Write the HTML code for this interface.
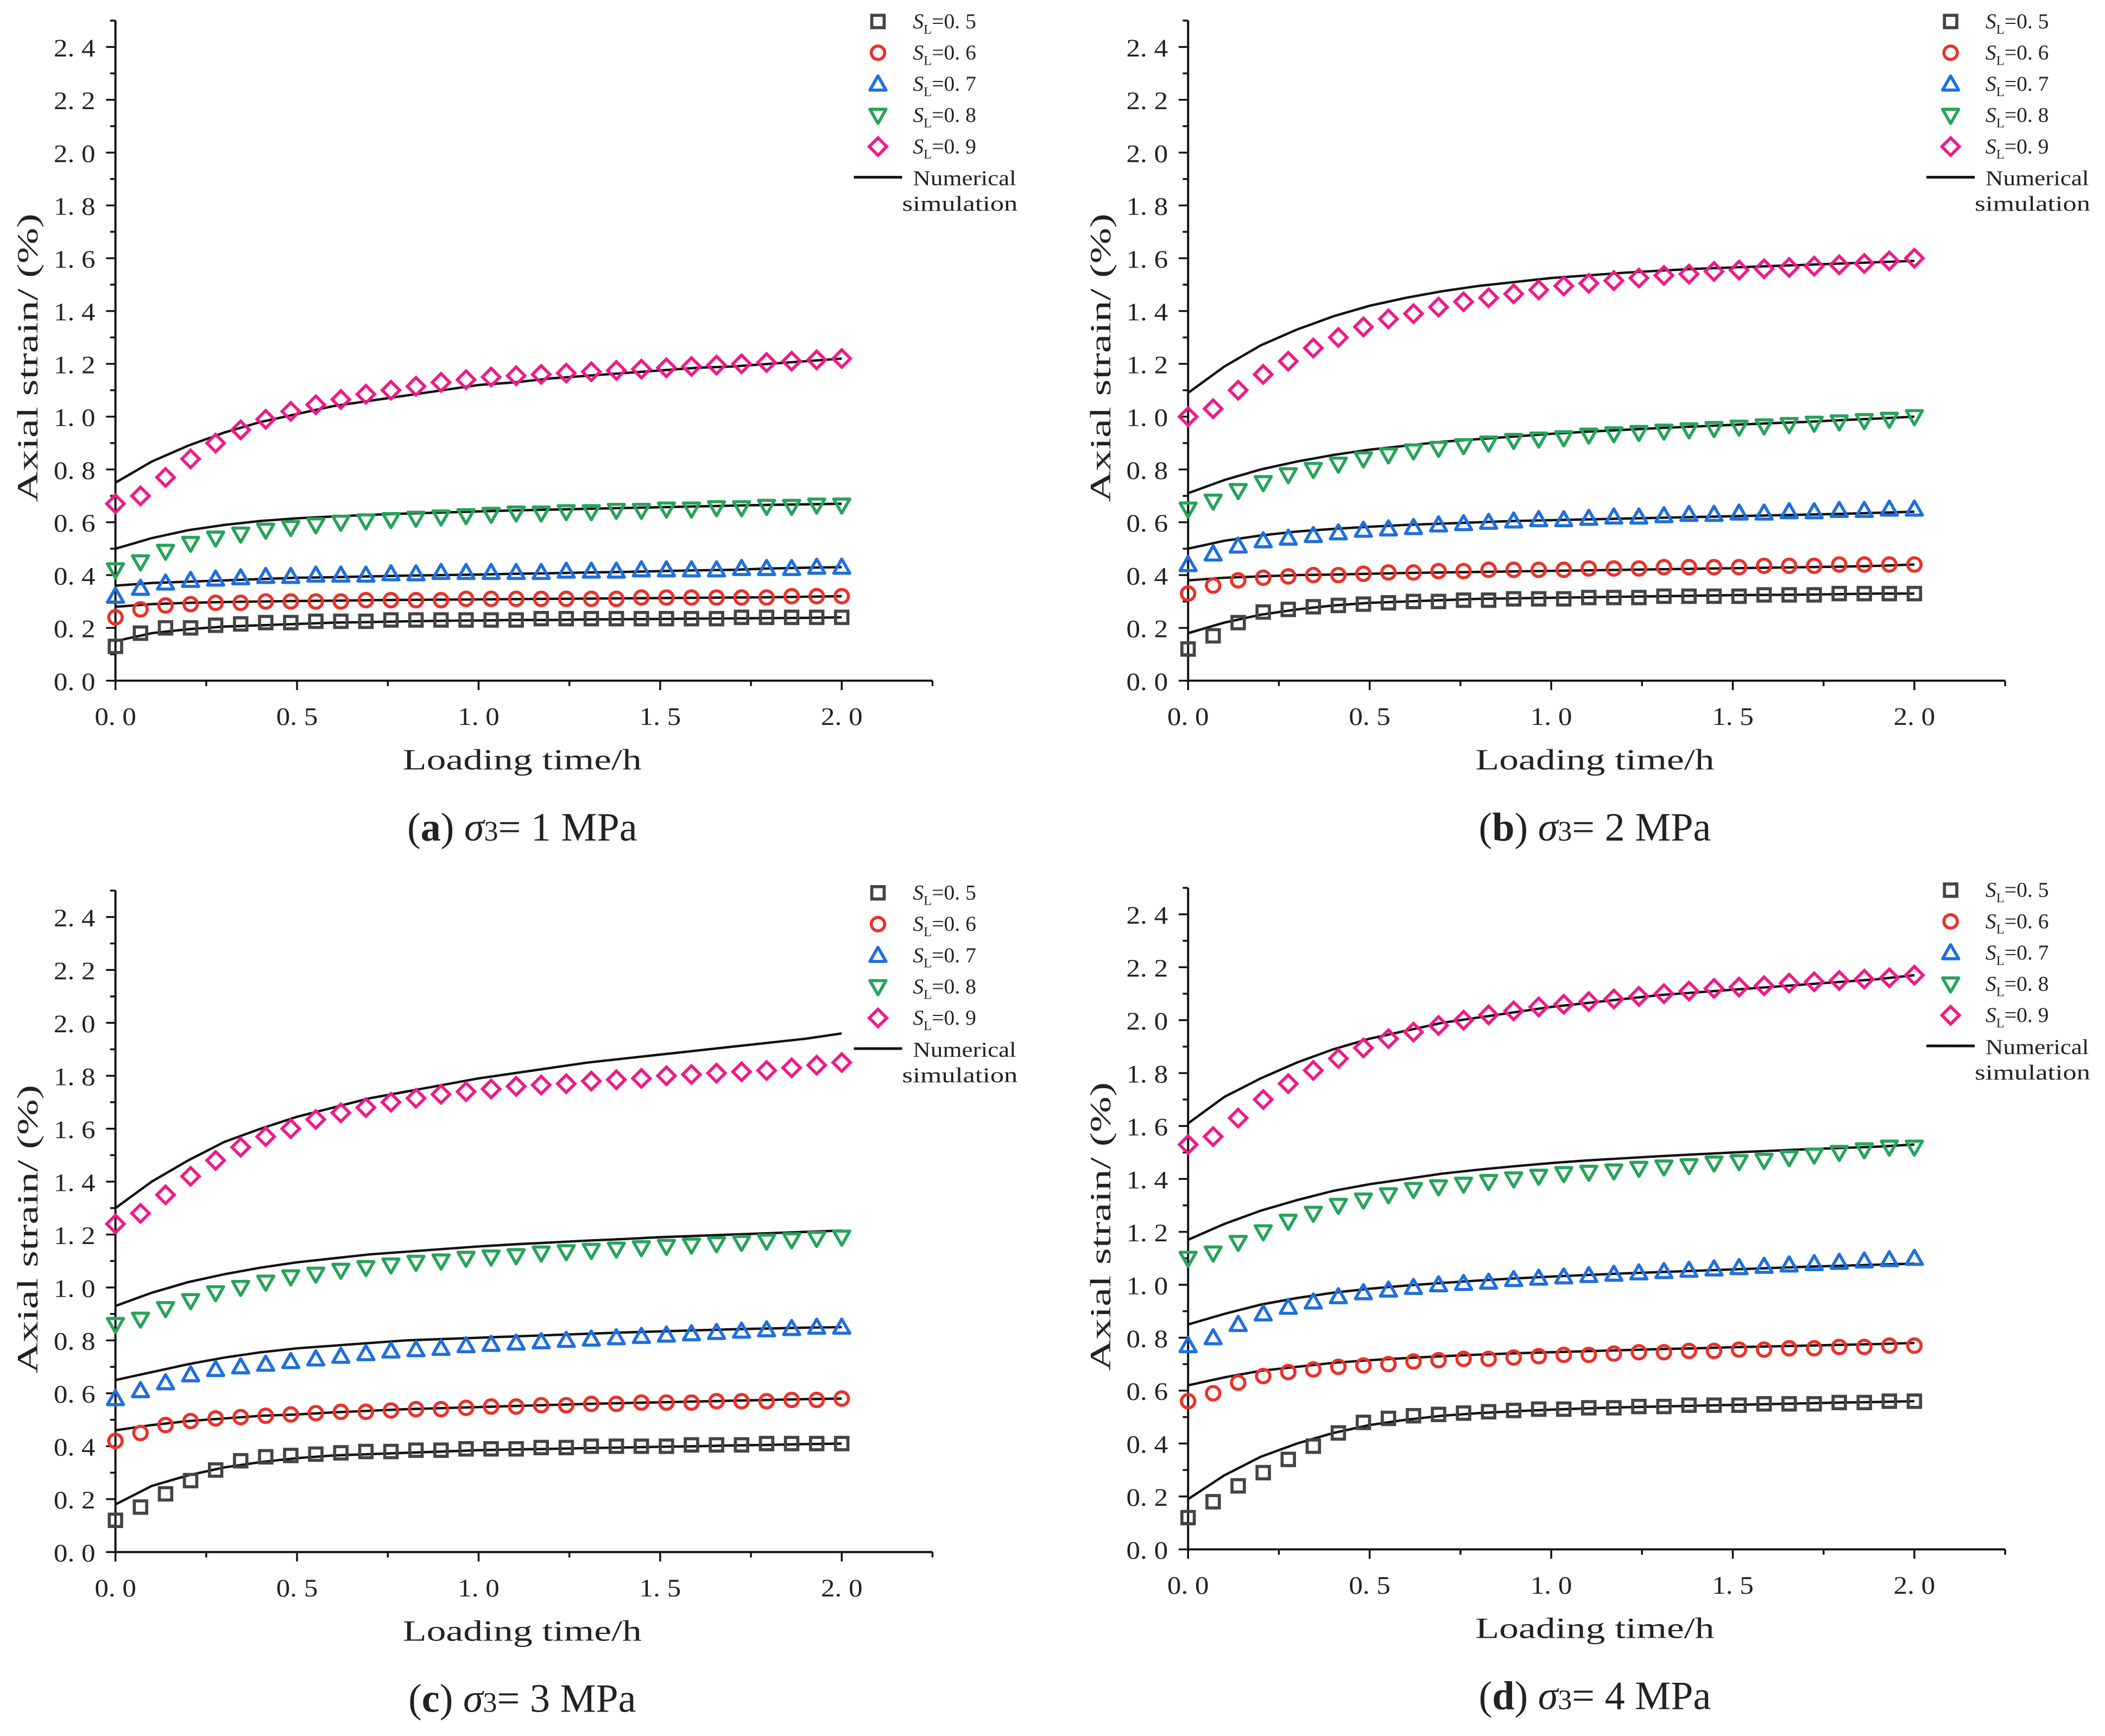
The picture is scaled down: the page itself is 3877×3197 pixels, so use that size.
<!DOCTYPE html>
<html><head><meta charset="utf-8"><style>
html,body{margin:0;padding:0;background:#fff;}
svg{display:block;}
text{font-family:"Liberation Serif","Noto Serif CJK SC",serif;fill:#222;}
</style></head><body>
<svg id="fig" width="3877" height="3197" viewBox="0 0 1568 1293" preserveAspectRatio="none" xmlns="http://www.w3.org/2000/svg"></svg>
<script>
// shared data
const levels = ["0.5","0.6","0.7","0.8","0.9"];
const yTicks = [0.0,0.2,0.4,0.6,0.8,1.0,1.2,1.4,1.6,1.8,2.0,2.2,2.4];
const yTickLabels = ["0. 0","0. 2","0. 4","0. 6","0. 8","1. 0","1. 2","1. 4","1. 6","1. 8","2. 0","2. 2","2. 4"];
const xTicks = [0,0.5,1.0,1.5,2.0];
const xTickLabels = ["0. 0","0. 5","1. 0","1. 5","2. 0"];
const markerTimes = Array.from({length:30},(_, i)=>i*2/29);
const curveTimes = [0,0.1,0.2,0.3,0.4,0.5,0.6,0.7,0.8,0.9,1.0,1.1,1.2,1.3,1.4,1.5,1.6,1.7,1.8,1.9,2.0];

// panel (a)
const aM05=[0.13,0.18,0.20,0.20,0.21,0.215,0.22,0.22,0.225,0.225,0.225,0.23,0.23,0.23,0.23,0.23,0.23,0.235,0.235,0.235,0.235,0.235,0.235,0.235,0.235,0.24,0.24,0.24,0.24,0.24];
const aM06=[0.24,0.27,0.285,0.29,0.295,0.295,0.30,0.30,0.30,0.30,0.305,0.305,0.305,0.305,0.31,0.31,0.31,0.31,0.31,0.31,0.31,0.315,0.315,0.315,0.315,0.315,0.315,0.32,0.32,0.32];
const aM07=[0.32,0.35,0.37,0.38,0.385,0.39,0.395,0.395,0.40,0.40,0.40,0.405,0.405,0.41,0.41,0.41,0.41,0.41,0.415,0.415,0.415,0.42,0.42,0.42,0.42,0.425,0.425,0.425,0.43,0.43];
const aM08=[0.42,0.45,0.49,0.52,0.54,0.555,0.57,0.58,0.59,0.60,0.605,0.61,0.615,0.62,0.625,0.63,0.635,0.635,0.64,0.64,0.645,0.645,0.65,0.65,0.655,0.655,0.66,0.66,0.665,0.665];
const aM09=[0.67,0.70,0.77,0.84,0.90,0.95,0.99,1.02,1.045,1.065,1.085,1.10,1.115,1.13,1.14,1.15,1.155,1.16,1.165,1.17,1.175,1.18,1.185,1.19,1.195,1.20,1.205,1.21,1.215,1.22];
const aC05=[0.15,0.18,0.195,0.205,0.21,0.215,0.22,0.222,0.225,0.227,0.228,0.23,0.23,0.232,0.233,0.234,0.235,0.236,0.237,0.238,0.24];
const aC06=[0.28,0.29,0.295,0.298,0.30,0.302,0.303,0.305,0.306,0.307,0.308,0.309,0.31,0.311,0.312,0.313,0.314,0.315,0.316,0.318,0.32];
const aC07=[0.36,0.37,0.375,0.38,0.385,0.39,0.392,0.395,0.398,0.40,0.402,0.405,0.407,0.41,0.412,0.415,0.418,0.42,0.425,0.428,0.43];
const aC08=[0.50,0.54,0.57,0.59,0.605,0.615,0.622,0.628,0.633,0.637,0.641,0.645,0.648,0.651,0.654,0.657,0.66,0.663,0.666,0.668,0.67];
const aC09=[0.75,0.83,0.89,0.94,0.98,1.01,1.04,1.06,1.08,1.10,1.12,1.13,1.145,1.155,1.165,1.175,1.185,1.19,1.20,1.21,1.22];

// panel (b)
const bM05=[0.12,0.17,0.22,0.26,0.27,0.28,0.285,0.29,0.295,0.30,0.30,0.305,0.305,0.31,0.31,0.31,0.315,0.315,0.315,0.32,0.32,0.32,0.32,0.325,0.325,0.325,0.33,0.33,0.33,0.33];
const bM06=[0.33,0.36,0.38,0.39,0.395,0.40,0.40,0.405,0.41,0.41,0.415,0.415,0.42,0.42,0.42,0.42,0.425,0.425,0.425,0.43,0.43,0.43,0.43,0.435,0.435,0.435,0.44,0.44,0.44,0.44];
const bM07=[0.44,0.48,0.51,0.53,0.54,0.55,0.56,0.57,0.575,0.58,0.59,0.595,0.60,0.605,0.61,0.61,0.615,0.62,0.62,0.625,0.63,0.63,0.635,0.635,0.64,0.64,0.645,0.645,0.65,0.65];
const bM08=[0.65,0.68,0.72,0.75,0.78,0.80,0.82,0.84,0.855,0.87,0.88,0.89,0.90,0.91,0.915,0.92,0.93,0.935,0.94,0.945,0.95,0.955,0.96,0.965,0.97,0.975,0.98,0.985,0.99,1.00];
const bM09=[1.00,1.03,1.10,1.16,1.21,1.26,1.30,1.34,1.37,1.39,1.415,1.435,1.45,1.465,1.48,1.495,1.505,1.515,1.525,1.535,1.54,1.55,1.555,1.56,1.565,1.57,1.575,1.58,1.59,1.60];
const bC05=[0.18,0.22,0.25,0.27,0.285,0.295,0.30,0.305,0.31,0.312,0.314,0.316,0.318,0.32,0.322,0.324,0.325,0.326,0.328,0.33,0.33];
const bC06=[0.38,0.39,0.395,0.40,0.402,0.405,0.408,0.41,0.412,0.414,0.416,0.418,0.42,0.422,0.424,0.426,0.428,0.43,0.432,0.435,0.44];
const bC07=[0.50,0.53,0.55,0.565,0.575,0.583,0.59,0.595,0.60,0.605,0.608,0.611,0.614,0.617,0.62,0.623,0.626,0.629,0.632,0.636,0.64];
const bC08=[0.71,0.76,0.80,0.83,0.855,0.875,0.89,0.905,0.915,0.925,0.935,0.943,0.95,0.957,0.963,0.969,0.975,0.98,0.987,0.993,1.00];
const bC09=[1.09,1.19,1.27,1.33,1.38,1.42,1.45,1.475,1.495,1.51,1.525,1.535,1.545,1.553,1.56,1.565,1.57,1.575,1.58,1.585,1.59];

// panel (c)
const cM05=[0.12,0.17,0.22,0.27,0.31,0.345,0.36,0.365,0.37,0.375,0.38,0.38,0.385,0.385,0.39,0.39,0.39,0.395,0.395,0.40,0.40,0.40,0.40,0.405,0.405,0.405,0.41,0.41,0.41,0.41];
const cM06=[0.42,0.45,0.48,0.495,0.505,0.51,0.515,0.52,0.525,0.53,0.53,0.535,0.54,0.54,0.545,0.55,0.55,0.555,0.555,0.56,0.56,0.565,0.565,0.565,0.57,0.57,0.57,0.575,0.575,0.58];
const cM07=[0.58,0.61,0.64,0.67,0.69,0.70,0.71,0.72,0.73,0.74,0.75,0.76,0.765,0.77,0.78,0.785,0.79,0.795,0.80,0.805,0.81,0.815,0.82,0.825,0.83,0.835,0.84,0.845,0.85,0.85];
const cM08=[0.86,0.88,0.92,0.95,0.98,1.00,1.02,1.04,1.05,1.065,1.075,1.085,1.095,1.10,1.11,1.115,1.12,1.13,1.135,1.14,1.145,1.15,1.155,1.16,1.165,1.17,1.175,1.18,1.185,1.19];
const cM09=[1.24,1.28,1.35,1.42,1.48,1.53,1.57,1.60,1.635,1.66,1.68,1.70,1.715,1.73,1.74,1.75,1.76,1.765,1.77,1.78,1.785,1.79,1.80,1.805,1.81,1.815,1.82,1.83,1.84,1.85];
const cC05=[0.18,0.25,0.29,0.32,0.34,0.355,0.365,0.37,0.375,0.38,0.385,0.388,0.39,0.393,0.395,0.398,0.40,0.403,0.405,0.408,0.41];
const cC06=[0.46,0.48,0.495,0.505,0.515,0.52,0.528,0.534,0.54,0.544,0.548,0.552,0.556,0.56,0.563,0.566,0.569,0.572,0.575,0.578,0.58];
const cC07=[0.65,0.68,0.71,0.735,0.755,0.77,0.78,0.79,0.80,0.805,0.81,0.815,0.82,0.825,0.83,0.834,0.838,0.842,0.845,0.848,0.85];
const cC08=[0.93,0.98,1.02,1.05,1.075,1.095,1.11,1.125,1.135,1.145,1.155,1.163,1.17,1.177,1.183,1.19,1.195,1.20,1.205,1.21,1.215];
const cC09=[1.30,1.40,1.48,1.55,1.60,1.645,1.68,1.715,1.74,1.765,1.79,1.81,1.83,1.85,1.865,1.88,1.895,1.91,1.925,1.94,1.96];

// panel (d)
const dM05=[0.12,0.18,0.24,0.29,0.34,0.39,0.44,0.48,0.495,0.505,0.51,0.515,0.52,0.525,0.53,0.53,0.535,0.535,0.54,0.54,0.545,0.545,0.545,0.55,0.55,0.55,0.555,0.555,0.56,0.56];
const dM06=[0.56,0.59,0.63,0.655,0.67,0.68,0.69,0.695,0.70,0.71,0.715,0.72,0.72,0.725,0.73,0.735,0.735,0.74,0.745,0.745,0.75,0.75,0.755,0.755,0.76,0.76,0.765,0.765,0.77,0.77];
const dM07=[0.77,0.80,0.85,0.89,0.915,0.935,0.955,0.97,0.98,0.99,1.00,1.005,1.01,1.02,1.025,1.03,1.035,1.04,1.045,1.05,1.055,1.06,1.065,1.07,1.075,1.08,1.085,1.09,1.095,1.10];
const dM08=[1.10,1.12,1.16,1.20,1.24,1.27,1.30,1.32,1.34,1.36,1.37,1.38,1.39,1.40,1.41,1.42,1.425,1.43,1.44,1.445,1.45,1.46,1.465,1.47,1.48,1.49,1.50,1.51,1.52,1.52];
const dM09=[1.53,1.56,1.63,1.70,1.76,1.81,1.855,1.895,1.93,1.955,1.98,2.00,2.02,2.035,2.05,2.06,2.07,2.08,2.09,2.10,2.11,2.12,2.125,2.13,2.14,2.145,2.15,2.155,2.16,2.17];
const dC05=[0.19,0.28,0.35,0.40,0.44,0.47,0.49,0.505,0.515,0.522,0.528,0.533,0.537,0.54,0.543,0.546,0.549,0.552,0.555,0.557,0.56];
const dC06=[0.62,0.65,0.675,0.69,0.705,0.715,0.723,0.73,0.736,0.741,0.745,0.749,0.753,0.757,0.76,0.764,0.767,0.77,0.773,0.776,0.78];
const dC07=[0.85,0.89,0.925,0.95,0.97,0.985,0.997,1.007,1.016,1.024,1.031,1.037,1.043,1.048,1.053,1.058,1.063,1.068,1.072,1.076,1.08];
const dC08=[1.17,1.23,1.28,1.32,1.355,1.38,1.40,1.42,1.435,1.448,1.46,1.47,1.478,1.486,1.493,1.50,1.506,1.512,1.517,1.522,1.53];
const dC09=[1.61,1.71,1.78,1.84,1.89,1.93,1.96,1.99,2.01,2.03,2.05,2.065,2.08,2.095,2.105,2.115,2.125,2.135,2.145,2.155,2.17];

const NS="http://www.w3.org/2000/svg";
const svg=document.getElementById('fig');
const colors=["#444444","#e8322a","#1f6fdc","#27a35b","#ee1a87"];
const shapes=["square","circle","up","down","diamond"];

function mk(tag,attrs,parent){const e=document.createElementNS(NS,tag);for(const k in attrs)e.setAttribute(k,attrs[k]);(parent||svg).appendChild(e);return e;}

function marker(g,shape,cx,cy,col){
  let e;
  const s=4.6;
  if(shape==="square") e=mk('rect',{x:cx-s,y:cy-s,width:2*s,height:2*s,fill:'none',stroke:col,'stroke-width':2.3},g);
  else if(shape==="circle") e=mk('circle',{cx:cx,cy:cy,r:5,fill:'none',stroke:col,'stroke-width':2.3},g);
  else if(shape==="up") e=mk('polygon',{points:`${cx},${cy-6} ${cx+6},${cy+4.5} ${cx-6},${cy+4.5}`,fill:'none',stroke:col,'stroke-width':2.3,'stroke-linejoin':'round'},g);
  else if(shape==="down") e=mk('polygon',{points:`${cx},${cy+6} ${cx+6},${cy-4.5} ${cx-6},${cy-4.5}`,fill:'none',stroke:col,'stroke-width':2.3,'stroke-linejoin':'round'},g);
  else e=mk('polygon',{points:`${cx},${cy-6.5} ${cx+6.5},${cy} ${cx},${cy+6.5} ${cx-6.5},${cy}`,fill:'none',stroke:col,'stroke-width':2.3},g);
  return e;
}

function panel(id,x0,y0,y24,markers,curves,letter,mpa){
  const g=mk('g',{});
  
  
  const pxPerH=(627-86)/2;
  const X=t=>x0+t*pxPerH;
  const Y=v=>y0-(v/2.4)*(y0-y24);
  const ax=mk('path',{d:`M${X(0)},${Y(2.5)} L${X(0)},${y0} L${X(2.25)},${y0}`,fill:'none',stroke:'#111','stroke-width':1.6},g);
  
  
  for(let i=0;i<=25;i++){
    const v=i*0.1;const major=i%2===0;
    mk('line',{x1:X(0),x2:X(0)-(major?7:4),y1:Y(v),y2:Y(v),stroke:'#111','stroke-width':1.4},g);
  }
  yTicks.forEach((v,i)=>{
    const t=mk('text',{x:X(0)-46,y:Y(v)+7,'font-size':19,textLength:31,lengthAdjust:'spacingAndGlyphs'},g);
    t.textContent=yTickLabels[i];
    
    
  });
  for(let i=0;i<=9;i++){
    const t=i*0.25;const major=i%2===0;
    mk('line',{x1:X(t),x2:X(t),y1:y0,y2:y0+(major?7:4),stroke:'#111','stroke-width':1.4},g);
  }
  xTicks.forEach((v,i)=>{
    const t=mk('text',{x:X(v)-15.5,y:y0+33,'font-size':19,textLength:31,lengthAdjust:'spacingAndGlyphs'},g);
    t.textContent=xTickLabels[i];
    
    
  });
  const xt=mk('text',{x:X(0)+214,y:y0+66,'font-size':22,textLength:178,lengthAdjust:'spacingAndGlyphs'},g);
  xt.textContent='Loading time/h';
  
  
  const ym=y0-240;
  const yt=mk('text',{x:-107,y:0,'font-size':22,textLength:215,lengthAdjust:'spacingAndGlyphs',transform:`translate(${X(0)-58},${ym}) rotate(-90)`},g);
  yt.textContent='Axial strain/ (%)';
  
  
  curves.forEach((arr,k)=>{
    const d=arr.map((v,i)=>(i?'L':'M')+X(curveTimes[i]).toFixed(2)+','+Y(v).toFixed(2)).join(' ');
    const p=mk('path',{d:d,fill:'none',stroke:'#111','stroke-width':1.8},g);
    
    
  });
  markers.forEach((arr,k)=>{
    const sg=mk('g',{},g);
    
    
    arr.forEach((v,i)=>{
      const m=marker(sg,shapes[k],X(markerTimes[i]),Y(v),colors[k]);
      
      
    });
  });
  const lx=x0+568, ly=y0-491;
  const lg=mk('g',{},g);
  
  
  levels.forEach((lv,k)=>{
    const yy=ly+k*23.3;
    marker(lg,shapes[k],lx,yy,colors[k]);
    const t=mk('text',{x:lx+26,y:yy+5,'font-size':16},lg);
    t.innerHTML=`<tspan font-style="italic">S</tspan><tspan font-size="10" dy="4">L</tspan><tspan dy="-4">=0. ${lv.slice(2)}</tspan>`;
    
    
  });
  mk('line',{x1:lx-18,x2:lx+18,y1:ly+116,y2:ly+116,stroke:'#111','stroke-width':2},lg);
  const n1=mk('text',{x:lx+26,y:ly+122,'font-size':16,textLength:77,lengthAdjust:'spacingAndGlyphs'},lg);
  n1.textContent='Numerical';
  
  
  const n2=mk('text',{x:lx+18,y:ly+141,'font-size':16,textLength:86,lengthAdjust:'spacingAndGlyphs'},lg);
  n2.textContent='simulation';
  const c=mk('text',{x:x0+303,y:y0+119,'text-anchor':'middle','font-size':30},g);
  c.innerHTML=`(<tspan font-weight="bold">${letter}</tspan>) <tspan font-style="italic">σ</tspan><tspan font-size="21">3</tspan>= ${mpa} MPa`;
  
  
}

panel('a',86,507,35,[aM05,aM06,aM07,aM08,aM09],[aC05,aC06,aC07,aC08,aC09],'a',1);
panel('b',885,507,35,[bM05,bM06,bM07,bM08,bM09],[bC05,bC06,bC07,bC08,bC09],'b',2);
panel('c',86,1156,683,[cM05,cM06,cM07,cM08,cM09],[cC05,cC06,cC07,cC08,cC09],'c',3);
panel('d',885,1154,681,[dM05,dM06,dM07,dM08,dM09],[dC05,dC06,dC07,dC08,dC09],'d',4);
</script>
</body></html>
